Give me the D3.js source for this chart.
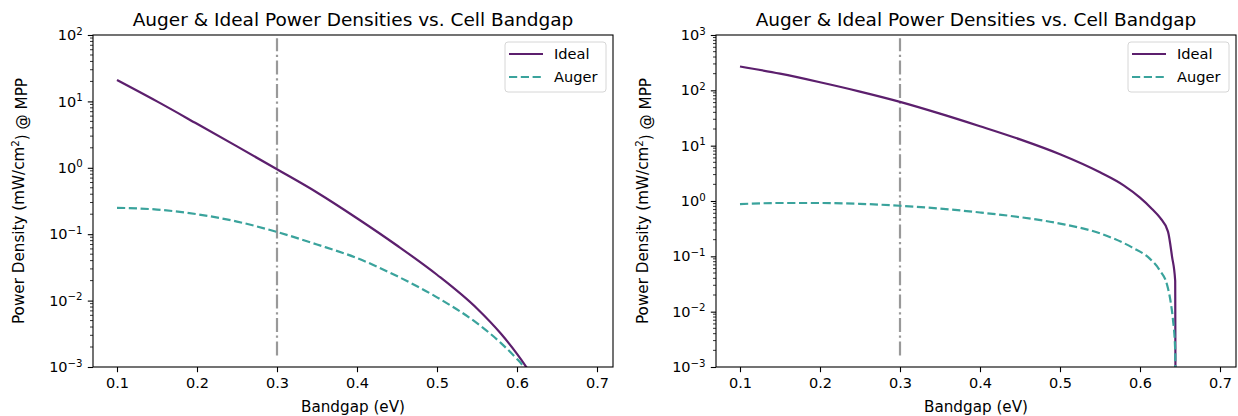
<!DOCTYPE html>
<html><head><meta charset="utf-8">
<script src="https://cdn.jsdelivr.net/npm/d3@7"></script>
<style>
body{margin:0;background:#fff}
svg{display:block}
text{font-family:"DejaVu Sans",sans-serif;fill:#000}
</style>
</head><body>
<svg id="c" width="1238" height="416"></svg>
<script>
// ---------- data ----------
const titleText = "Auger & Ideal Power Densities vs. Cell Bandgap";
const xLabelText = "Bandgap (eV)";
const seriesNames = ["Ideal", "Auger"];
const xTicks = [0.1, 0.2, 0.3, 0.4, 0.5, 0.6, 0.7];
const leftYExps = [-3, -2, -1, 0, 1, 2];
const rightYExps = [-3, -2, -1, 0, 1, 2, 3];
const vlineX = 0.3;

// left panel
const leftIdealX = [0.10, 0.15, 0.20, 0.25, 0.30, 0.35, 0.40, 0.45, 0.50, 0.55, 0.58, 0.60, 0.61, 0.62];
const leftIdealY = [21, 10.0, 4.6, 2.1, 0.95, 0.425, 0.174, 0.0676, 0.0245, 0.0076, 0.00316, 0.00158, 0.00107, 0.0007];
const leftAugerX = [0.10, 0.15, 0.20, 0.25, 0.30, 0.35, 0.40, 0.45, 0.50, 0.55, 0.58, 0.60, 0.606, 0.61];
const leftAugerY = [0.25, 0.235, 0.2, 0.155, 0.108, 0.07, 0.0437, 0.0234, 0.0112, 0.00457, 0.00229, 0.00132, 0.0011, 0.00095];

// right panel
const rightIdealX = [0.10, 0.15, 0.20, 0.25, 0.30, 0.35, 0.40, 0.45, 0.50, 0.55, 0.58, 0.60, 0.615, 0.625, 0.635, 0.64, 0.644, 0.6445];
const rightIdealY = [270, 200, 140, 95, 62, 38, 22.5, 13, 7, 3.3, 1.9, 1.15, 0.72, 0.5, 0.28, 0.1, 0.036, 0.0001];
const rightAugerX = [0.10, 0.15, 0.20, 0.25, 0.30, 0.35, 0.40, 0.45, 0.50, 0.55, 0.59, 0.6125, 0.625, 0.634, 0.638, 0.641, 0.644, 0.6445];
const rightAugerY = [0.88, 0.92, 0.92, 0.89, 0.82, 0.73, 0.62, 0.51, 0.39, 0.26, 0.145, 0.09, 0.055, 0.03, 0.016, 0.0076, 0.002, 0.0001];

// ---------- style ----------
const colIdeal = "#5c1f6d";
const colAuger = "#3aa39c";
const colV = "#999999";
const lw = 2.2;
const fsTick = 14.5, fsLabel = 15.2, fsTitle = 18.5, fsLegend = 14.6, fsSup = 10.2;
const tickLen = 5.2, tickPad = 5.2;

const svg = d3.select("#c");

function panel(opt) {
  const {left, top, width, height, yExps, ideal, auger, id, ylx} = opt;
  const g = svg.append("g");
  const x = d3.scaleLinear().domain([0.07, 0.72]).range([left, left + width]);
  const y = d3.scaleLog().domain([Math.pow(10, yExps[0]), Math.pow(10, yExps[yExps.length - 1])]).range([top + height, top]);

  svg.append("clipPath").attr("id", id).append("rect")
    .attr("x", left).attr("y", top).attr("width", width).attr("height", height);

  const plot = g.append("g").attr("clip-path", `url(#${id})`);

  // vertical marker (axes-fraction extent)
  plot.append("line")
    .attr("x1", x(vlineX)).attr("x2", x(vlineX))
    .attr("y1", top + height * (1 - 0.035)).attr("y2", top + height * (1 - 0.99))
    .attr("stroke", colV).attr("stroke-width", lw)
    .attr("stroke-dasharray", "14,3.6,2.2,3.6");

  const line = d3.line().x(d => x(d[0])).y(d => y(d[1])).curve(d3.curveMonotoneX);
  plot.append("path").datum(d3.zip(ideal[0], ideal[1]))
    .attr("d", line).attr("fill", "none").attr("stroke", colIdeal).attr("stroke-width", lw);
  plot.append("path").datum(d3.zip(auger[0], auger[1]))
    .attr("d", line).attr("fill", "none").attr("stroke", colAuger).attr("stroke-width", lw)
    .attr("stroke-dasharray", "8.2,3.6");

  // x axis
  const xa = g.append("g").attr("transform", `translate(0,${top + height})`)
    .call(d3.axisBottom(x).tickValues(xTicks).tickSize(tickLen).tickPadding(tickPad).tickFormat(d3.format(".1f")));
  xa.select(".domain").remove();
  xa.selectAll("line").attr("stroke", "#000").attr("stroke-width", 1.1);
  xa.selectAll("text").attr("font-size", fsTick).attr("font-family", "DejaVu Sans").attr("fill", "#000");

  // y axis: major
  const majors = yExps.map(e => Math.pow(10, e));
  const ya = g.append("g").attr("transform", `translate(${left},0)`)
    .call(d3.axisLeft(y).tickValues(majors).tickSize(tickLen).tickPadding(tickPad).tickFormat(""));
  ya.select(".domain").remove();
  ya.selectAll("line").attr("stroke", "#000").attr("stroke-width", 1.1);
  ya.selectAll(".tick").each(function(d, i) {
    const t = d3.select(this).append("text")
      .attr("x", -(tickLen + tickPad)).attr("dy", "0.32em").attr("text-anchor", "end")
      .attr("font-size", fsTick).attr("fill", "#000");
    t.append("tspan").text("10");
    const e = yExps[i];
    t.append("tspan").attr("dy", "-0.55em").attr("font-size", fsSup)
      .text(e < 0 ? "\u2212" + Math.abs(e) : String(e));
  });
  // minor ticks
  const minors = [];
  for (let k = 0; k < yExps.length - 1; k++)
    for (let m = 2; m <= 9; m++) minors.push(m * Math.pow(10, yExps[k]));
  g.selectAll(null).data(minors).enter().append("line")
    .attr("x1", left).attr("x2", left - 3)
    .attr("y1", d => y(d)).attr("y2", d => y(d))
    .attr("stroke", "#000").attr("stroke-width", 0.8);

  // frame
  g.append("rect").attr("x", left).attr("y", top).attr("width", width).attr("height", height)
    .attr("fill", "none").attr("stroke", "#000").attr("stroke-width", 1.1);

  // title
  g.append("text").attr("x", left + width / 2).attr("y", top - 9).attr("text-anchor", "middle")
    .attr("font-size", fsTitle).text(titleText);
  // x label
  g.append("text").attr("x", left + width / 2).attr("y", 412).attr("text-anchor", "middle")
    .attr("font-size", fsLabel).text(xLabelText);
  // y label
  const yl = g.append("text").attr("transform", `translate(${ylx},${top + height / 2}) rotate(-90)`)
    .attr("text-anchor", "middle").attr("font-size", fsLabel);
  yl.append("tspan").text("Power Density (mW/cm");
  yl.append("tspan").attr("dy", "-0.5em").attr("font-size", fsSup).text("2");
  yl.append("tspan").attr("dy", "0.5em").text(") @ MPP");

  // legend
  const lgW = 101, lgH = 50;
  const lx = left + width - 7 - lgW, ly = top + 7;
  const lg = g.append("g").attr("transform", `translate(${lx},${ly})`);
  lg.append("rect").attr("width", lgW).attr("height", lgH).attr("rx", 3)
    .attr("fill", "#fff").attr("fill-opacity", 0.8).attr("stroke", "#d6d6d6").attr("stroke-width", 1);
  const items = [[seriesNames[0], colIdeal, null], [seriesNames[1], colAuger, "8.2,3.6"]];
  items.forEach((it, i) => {
    const cy = 12 + i * 23;
    const l = lg.append("line").attr("x1", 4).attr("x2", 38).attr("y1", cy).attr("y2", cy)
      .attr("stroke", it[1]).attr("stroke-width", lw);
    if (it[2]) l.attr("stroke-dasharray", it[2]);
    lg.append("text").attr("x", 49).attr("y", cy).attr("dy", "0.36em").attr("font-size", fsLegend).text(it[0]);
  });
}

panel({left: 93, top: 35, width: 520, height: 332, yExps: leftYExps,
  ideal: [leftIdealX, leftIdealY], auger: [leftAugerX, leftAugerY], id: "clipL", ylx: 24});
panel({left: 716, top: 35, width: 520, height: 332, yExps: rightYExps,
  ideal: [rightIdealX, rightIdealY], auger: [rightAugerX, rightAugerY], id: "clipR", ylx: 648});
</script>
</body></html>
